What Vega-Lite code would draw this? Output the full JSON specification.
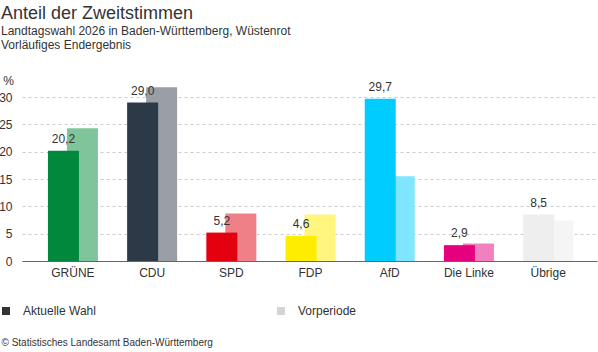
{
  "$schema": "https://vega.github.io/schema/vega-lite/v6.json",
  "width": 575,
  "height": 177,
  "autosize": {"type": "none"},
  "padding": {"left": 22, "top": 84, "right": 1, "bottom": 91},
  "background": "white",
  "config": {
    "font": "Liberation Sans",
    "view": {"stroke": null},
    "locale": {"number": {"decimal": ",", "thousands": ".", "grouping": [3], "currency": ["", " €"]}}
  },
  "title": {
    "text": "Anteil der Zweitstimmen",
    "subtitle": ["Landtagswahl 2026 in Baden-Württemberg, Wüstenrot", "Vorläufiges Endergebnis"],
    "anchor": "start",
    "frame": "group",
    "dx": -21,
    "offset": 23,
    "fontSize": 18,
    "fontWeight": "normal",
    "color": "#333333",
    "subtitleFontSize": 12,
    "subtitleColor": "#333333",
    "subtitleLineHeight": 14,
    "subtitlePadding": 3
  },
  "data": {
    "values": [
      {"party": "GRÜNE", "series": "Aktuelle Wahl", "value": 20.2},
      {"party": "CDU", "series": "Aktuelle Wahl", "value": 29.0},
      {"party": "SPD", "series": "Aktuelle Wahl", "value": 5.2},
      {"party": "FDP", "series": "Aktuelle Wahl", "value": 4.6},
      {"party": "AfD", "series": "Aktuelle Wahl", "value": 29.7},
      {"party": "Die Linke", "series": "Aktuelle Wahl", "value": 2.9},
      {"party": "Übrige", "series": "Aktuelle Wahl", "value": 8.5},
      {"party": "GRÜNE", "series": "Vorperiode", "value": 24.3},
      {"party": "CDU", "series": "Vorperiode", "value": 31.8},
      {"party": "SPD", "series": "Vorperiode", "value": 8.7},
      {"party": "FDP", "series": "Vorperiode", "value": 8.5},
      {"party": "AfD", "series": "Vorperiode", "value": 15.5},
      {"party": "Die Linke", "series": "Vorperiode", "value": 3.2},
      {"party": "Übrige", "series": "Vorperiode", "value": 7.4}
    ]
  },
  "encoding": {
    "x": {
      "field": "party",
      "type": "nominal",
      "sort": ["GRÜNE", "CDU", "SPD", "FDP", "AfD", "Die Linke", "Übrige"],
      "scale": {"paddingInner": 0, "paddingOuter": 0.13, "align": 0.55},
      "axis": {
        "labelAngle": 0,
        "labelFontSize": 12,
        "labelColor": "#333333",
        "labelPadding": 6,
        "ticks": false,
        "domainColor": "#666666",
        "domainWidth": 1,
        "grid": false,
        "title": "© Statistisches Landesamt Baden-Württemberg",
        "titleFontSize": 10,
        "titleFontWeight": "normal",
        "titleColor": "#333333",
        "titleAlign": "left",
        "titleAnchor": "start",
        "titleBaseline": "alphabetic",
        "titleX": -21,
        "titleY": 84
      }
    },
    "y": {
      "field": "value",
      "type": "quantitative",
      "scale": {"domain": [0, 32.4], "nice": false},
      "axis": {
        "values": [0, 5, 10, 15, 20, 25, 30],
        "labelFontSize": 12,
        "labelColor": "#333333",
        "labelPadding": 10,
        "ticks": false,
        "domain": false,
        "gridColor": "#cccccc",
        "gridDash": [3, 3],
        "title": "%",
        "titleAngle": 0,
        "titleFontSize": 12,
        "titleFontWeight": "normal",
        "titleColor": "#333333",
        "titleAlign": "center",
        "titleBaseline": "alphabetic",
        "titleX": -14,
        "titleY": 0
      }
    }
  },
  "layer": [
    {
      "transform": [{"filter": "datum.series === 'Vorperiode'"}],
      "mark": {"type": "bar", "width": 31, "xOffset": 9.5},
      "encoding": {
        "color": {
          "field": "party",
          "type": "nominal",
          "scale": {
            "domain": ["GRÜNE", "CDU", "SPD", "FDP", "AfD", "Die Linke", "Übrige"],
            "range": ["#80C49C", "#9A9FA6", "#F08087", "#FFF57F", "#80E6FF", "#F080BE", "#F5F5F5"]
          },
          "legend": null
        }
      }
    },
    {
      "transform": [{"filter": "datum.series === 'Aktuelle Wahl'"}],
      "mark": {"type": "bar", "width": 31, "xOffset": -9.5},
      "encoding": {
        "color": {
          "field": "party",
          "type": "nominal",
          "scale": {
            "domain": ["GRÜNE", "CDU", "SPD", "FDP", "AfD", "Die Linke", "Übrige"],
            "range": ["#00893C", "#2C3A48", "#E3000F", "#FFED00", "#00CCFF", "#E5007D", "#EEEEEE"]
          },
          "legend": null
        }
      }
    },
    {
      "transform": [{"filter": "datum.series === 'Aktuelle Wahl'"}],
      "mark": {"type": "text", "xOffset": -9.5, "dy": -5, "baseline": "bottom", "fontSize": 12, "color": "#333333"},
      "encoding": {
        "text": {"field": "value", "type": "quantitative", "format": ".1f"}
      }
    },
    {
      "mark": {"type": "square", "opacity": 0},
      "encoding": {
        "color": {
          "field": "series",
          "type": "nominal",
          "scale": {"domain": ["Aktuelle Wahl", "Vorperiode"], "range": ["#333333", "#d3d3d3"]},
          "legend": {
            "orient": "none",
            "legendX": -22,
            "legendY": 221,
            "direction": "horizontal",
            "columns": 2,
            "title": null,
            "symbolType": "square",
            "symbolSize": 64,
            "symbolOpacity": 1,
            "symbolStrokeWidth": 0,
            "labelFontSize": 12,
            "labelColor": "#333333",
            "labelOffset": 11,
            "columnPadding": 179
          }
        }
      }
    }
  ],
  "resolve": {"scale": {"color": "independent"}}
}
